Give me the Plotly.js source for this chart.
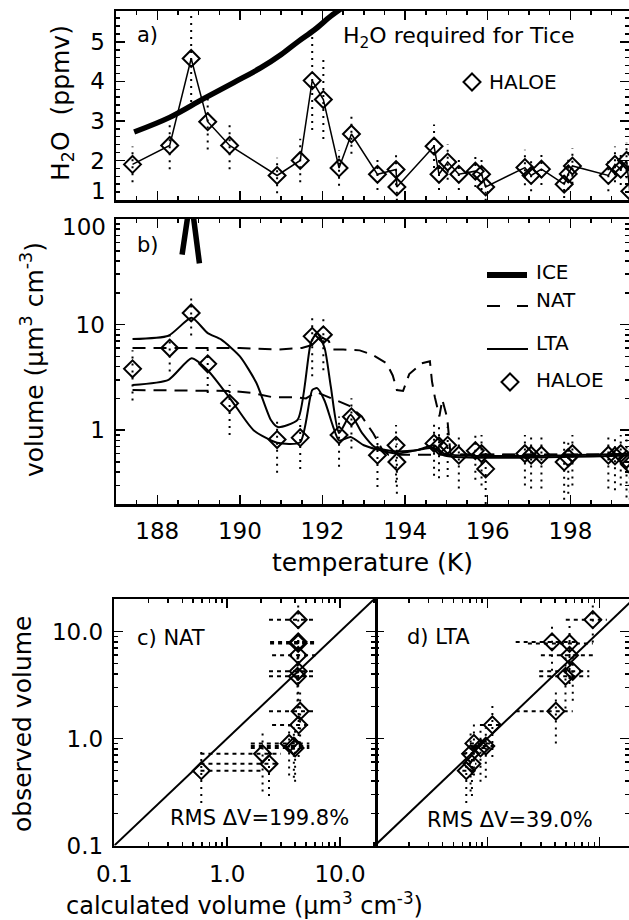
<!DOCTYPE html>
<html><head><meta charset="utf-8">
<script src="https://cdn.plot.ly/plotly-3.0.1.min.js"></script>
<style>html,body{margin:0;padding:0;background:#fff}#chart{width:629px;height:920px}</style>
</head><body><div id="chart"></div>
<script>
// ---------- HALOE observations (panels a and b) ----------
const temps  = [187.40,188.30,188.82,189.22,189.75,190.90,191.46,191.75,192.02,192.40,192.70,193.33,193.78,193.80,194.70,194.82,195.03,195.30,195.70,195.85,195.95,196.90,197.05,197.30,197.85,197.95,198.05,198.92,199.08,199.22,199.36,199.44];
const h2o    = [1.90,2.38,4.58,2.98,2.38,1.62,2.00,4.02,3.54,1.81,2.67,1.65,1.77,1.33,2.36,1.65,1.96,1.65,1.73,1.65,1.33,1.82,1.62,1.78,1.40,1.66,1.86,1.62,1.90,1.78,2.00,1.22];
const h2oErr = [0.45,0.60,1.10,0.70,0.60,0.45,0.55,1.25,1.00,0.45,0.50,0.40,0.40,0.35,0.55,0.40,0.45,0.40,0.40,0.40,0.35,0.45,0.40,0.40,0.35,0.40,0.45,0.40,0.45,0.40,0.45,0.35];
const volObs = [3.81,6.0,12.9,4.25,1.8,0.815,0.85,7.74,8.0,0.9,1.34,0.58,0.72,0.5,0.75,0.71,0.72,0.58,0.64,0.6,0.43,0.6,0.58,0.58,0.5,0.55,0.6,0.58,0.57,0.6,0.53,0.47];
const volErr = [1.9,2.4,5.0,2.0,0.9,0.42,0.42,4.5,4.3,0.45,0.67,0.29,0.4,0.25,0.38,0.36,0.36,0.3,0.3,0.3,0.23,0.3,0.3,0.3,0.28,0.3,0.3,0.3,0.3,0.3,0.3,0.25];

// H2O required for ice formation (panel a)
const iceReqT = [187.44,188.30,189.10,189.85,190.50,191.00,191.40,191.80,192.20,192.60];
const iceReqV = [2.72,3.09,3.55,3.97,4.34,4.68,5.00,5.30,5.65,5.95];

// Model volumes (panel b)
const iceT = [188.60,188.81,189.02];
const iceV = [46,165,38];
const natUpT = [187.40,190.0,190.9,191.5,191.8,192.0,192.15,192.25,192.5,192.9,193.2,193.55,193.7,193.8,193.95,194.1,194.4,194.6,194.65,194.72,194.83,194.9,195.02,195.1,199.45];
const natUpV = [6.0,6.0,5.8,6.0,6.5,7.5,7.0,5.8,5.8,5.7,5.2,4.3,3.3,2.4,2.35,3.4,4.3,4.5,2.9,2.05,1.35,1.95,1.3,0.59,0.59];
const natLoT = [187.40,189.8,190.3,190.8,191.3,191.6,191.85,192.1,192.3,192.65,192.95,193.23,193.45,193.6,199.45];
const natLoV = [2.4,2.35,2.25,2.05,2.05,2.0,2.3,2.1,1.93,1.7,1.35,0.93,0.65,0.585,0.585];
const ltaUpT = [187.40,188.27,188.83,189.22,189.55,190.0,190.4,190.75,190.92,191.40,191.72,191.87,192.05,192.2,192.4,192.68,192.95,193.27,193.8,194.3,194.7,194.95,199.45];
const ltaUpV = [7.3,7.85,11.6,8.3,7.2,5.0,2.8,1.25,1.07,1.26,6.8,8.3,6.0,2.6,0.94,1.4,0.95,0.69,0.63,0.65,0.72,0.6,0.6];
const ltaLoT = [187.40,188.27,188.83,189.22,189.79,190.33,190.90,191.46,191.75,191.87,192.05,192.25,192.4,192.68,193.0,193.3,193.8,194.7,194.95,199.45];
const ltaLoV = [2.68,3.0,4.8,3.7,1.93,1.0,0.76,0.77,2.4,2.5,1.9,1.1,0.8,0.86,0.72,0.66,0.6,0.68,0.575,0.575];

// ---------- Scatter comparisons (panels c and d), first 14 observations ----------
const nCmp = 14;
const natCalc = [4.2,4.26,4.26,4.26,4.43,4.0,3.9,4.26,4.26,3.54,4.3,2.35,2.06,0.59];
const natLo   = [2.35,2.5,2.35,2.35,2.35,1.62,1.62,2.4,2.4,1.62,2.5,0.58,0.58,0.58];
const natHi   = [6.1,6.1,6.1,6.1,6.1,5.35,5.35,6.3,6.3,5.35,5.3,2.9,3.0,2.1];
const ltaCalc = [4.97,5.4,8.7,5.77,4.08,0.87,0.97,5.4,3.77,0.76,1.11,0.73,0.71,0.65];
const ltaLo   = [2.9,3.0,5.0,2.9,1.79,0.75,0.77,2.3,1.79,0.70,0.86,0.66,0.60,0.60];
const ltaHi   = [8.1,8.7,11.6,8.1,5.77,1.07,1.26,8.7,6.2,1.1,1.4,0.8,0.8,0.75];
const oneToOne = [0.1,20];

const tempTicks = [188,190,192,194,196,198];
const h2oTicks = [2,3,4,5];          // "1" is drawn below as a raised label, as in the original
const volTicks = [1,10];             // "100" is drawn below as a lowered label, as in the original
const cmpTicks = [0.1,1,10];
const cmpTickText = ['0.1','1.0','10.0'];

// ---------- helpers ----------
const W = 629, H = 920;
const px = v => v / W;
const py = v => (H - v) / H;
function vSegs(xs, ys, es, floor) {
  const x = [], y = [];
  xs.forEach((xv, i) => { x.push(xv, xv, null); y.push(Math.max(ys[i] - es[i], floor), ys[i] + es[i], null); });
  return {x, y};
}
function hSegs(ys, lo, hi) {
  const x = [], y = [];
  ys.forEach((yv, i) => { x.push(lo[i], hi[i], null); y.push(yv, yv, null); });
  return {x, y};
}
function logMinor(lo, hi) {
  const out = [];
  for (let d = lo; d < hi; d++) for (let k = 2; k <= 9; k++) out.push(k * Math.pow(10, d));
  return out;
}
const K = '#000';
const dotted = {color: K, width: 2, dash: '2px,5px'};
const hdotted = {color: K, width: 2, dash: '4px,4px'};
const diamond = {symbol: 'diamond-open', size: 13, color: K, line: {color: K, width: 2}};

const traces = [];
// panel a
const ea = vSegs(temps, h2o, h2oErr, 0.5);
traces.push({x: ea.x, y: ea.y, xaxis: 'x', yaxis: 'y', mode: 'lines', line: dotted, hoverinfo: 'skip'});
traces.push({x: iceReqT, y: iceReqV, xaxis: 'x', yaxis: 'y', mode: 'lines', line: {color: K, width: 5.5, shape: 'spline'}});
traces.push({x: temps, y: h2o, xaxis: 'x', yaxis: 'y', mode: 'lines+markers', line: {color: K, width: 1.5}, marker: diamond});
// panel b
const eb = vSegs(temps, volObs, volErr, 0.12);
traces.push({x: eb.x, y: eb.y, xaxis: 'x2', yaxis: 'y2', mode: 'lines', line: dotted, hoverinfo: 'skip'});
traces.push({x: natUpT, y: natUpV, xaxis: 'x2', yaxis: 'y2', mode: 'lines', line: {color: K, width: 2, dash: '13px,8px'}});
traces.push({x: natLoT, y: natLoV, xaxis: 'x2', yaxis: 'y2', mode: 'lines', line: {color: K, width: 2, dash: '13px,8px'}});
traces.push({x: ltaUpT, y: ltaUpV, xaxis: 'x2', yaxis: 'y2', mode: 'lines', line: {color: K, width: 2, shape: 'spline', smoothing: 0.6}});
traces.push({x: ltaLoT, y: ltaLoV, xaxis: 'x2', yaxis: 'y2', mode: 'lines', line: {color: K, width: 2, shape: 'spline', smoothing: 0.6}});
traces.push({x: iceT, y: iceV, xaxis: 'x2', yaxis: 'y2', mode: 'lines', line: {color: K, width: 5.5}});
traces.push({x: temps, y: volObs, xaxis: 'x2', yaxis: 'y2', mode: 'markers', marker: diamond});
// panels c, d
const obsC = volObs.slice(0, nCmp), errC = volErr.slice(0, nCmp);
[['x3','y3',natCalc,natLo,natHi],['x4','y4',ltaCalc,ltaLo,ltaHi]].forEach(([xa, ya, calc, lo, hi]) => {
  traces.push({x: oneToOne, y: oneToOne, xaxis: xa, yaxis: ya, mode: 'lines', line: {color: K, width: 2}});
  const ev = vSegs(calc, obsC, errC, 0.05);
  traces.push({x: ev.x, y: ev.y, xaxis: xa, yaxis: ya, mode: 'lines', line: dotted, hoverinfo: 'skip'});
  const eh = hSegs(obsC, lo, hi);
  traces.push({x: eh.x, y: eh.y, xaxis: xa, yaxis: ya, mode: 'lines', line: hdotted, hoverinfo: 'skip'});
  traces.push({x: calc, y: obsC, xaxis: xa, yaxis: ya, mode: 'markers', marker: diamond});
});

const FONT = 'DejaVu Sans, sans-serif';
const tickFont = {family: FONT, size: 23, color: K};
const baseAxis = {
  showline: true, linewidth: 2.5, linecolor: K, mirror: 'allticks',
  ticks: 'inside', ticklen: 9, tickwidth: 1.5, tickcolor: K,
  showgrid: false, zeroline: false, tickfont: tickFont, fixedrange: true
};
const tempMinor = {dtick: 0.5, tick0: 188, ticks: 'inside', ticklen: 4, tickwidth: 1.5, tickcolor: K};
const dA = [px(116), 1];
const logMin = {tickvals: logMinor(-1, 2), ticks: 'inside', ticklen: 4, tickwidth: 1.5, tickcolor: K};

const layout = {
  width: W, height: H, margin: {l: 0, r: 0, t: 0, b: 0},
  paper_bgcolor: '#fff', plot_bgcolor: '#fff', showlegend: false,
  font: {family: FONT, color: K},
  xaxis: Object.assign({}, baseAxis, {domain: dA, anchor: 'y', range: [187.0, 199.42], tickvals: tempTicks, showticklabels: false, minor: tempMinor}),
  yaxis: Object.assign({}, baseAxis, {domain: [py(200), py(11)], anchor: 'x', range: [1.0, 5.78], tickvals: h2oTicks, minor: {dtick: 0.2, tick0: 1, ticks: 'inside', ticklen: 4, tickwidth: 1.5, tickcolor: K}, ticklabelstandoff: 4}),
  xaxis2: Object.assign({}, baseAxis, {domain: dA, anchor: 'y2', range: [187.0, 199.42], tickvals: tempTicks, minor: tempMinor, ticklabelstandoff: 5}),
  yaxis2: Object.assign({}, baseAxis, {domain: [py(504), py(219)], anchor: 'x2', type: 'log', range: [Math.log10(0.2), 2], tickvals: volTicks, ticktext: volTicks.map(String), minor: logMin, ticklabelstandoff: 4}),
  xaxis3: Object.assign({}, baseAxis, {domain: [px(114.3), px(375)], anchor: 'y3', type: 'log', range: [-1, 1.31], tickvals: cmpTicks, ticktext: cmpTickText, minor: logMin, ticklabelstandoff: 6}),
  yaxis3: Object.assign({}, baseAxis, {domain: [py(845.5), py(599.3)], anchor: 'x3', type: 'log', range: [-1, 1.301], tickvals: cmpTicks, ticktext: cmpTickText, minor: logMin, ticklabelstandoff: 4}),
  xaxis4: Object.assign({}, baseAxis, {domain: [px(375), 1], anchor: 'y4', type: 'log', range: [-1, 1.262], tickvals: cmpTicks, showticklabels: false, minor: logMin}),
  yaxis4: Object.assign({}, baseAxis, {domain: [py(845.5), py(599.3)], anchor: 'x4', type: 'log', range: [-1, 1.301], tickvals: cmpTicks, showticklabels: false, minor: logMin, showline: false}),
  annotations: [],
  shapes: []
};

function ann(text, x, y, opts) {
  layout.annotations.push(Object.assign({text, x: px(x), y: py(y), xref: 'paper', yref: 'paper', showarrow: false,
    xanchor: 'left', yanchor: 'middle', font: {family: FONT, size: 20, color: K}}, opts || {}));
}
function diamondShape(cx, cy, r) {
  layout.shapes.push({type: 'path', xref: 'paper', yref: 'paper',
    path: `M ${px(cx)} ${py(cy - r)} L ${px(cx + r)} ${py(cy)} L ${px(cx)} ${py(cy + r)} L ${px(cx - r)} ${py(cy)} Z`,
    line: {color: K, width: 2}});
}
function lineShape(x0, x1, y, w, dash) {
  layout.shapes.push({type: 'line', xref: 'paper', yref: 'paper', x0: px(x0), x1: px(x1), y0: py(y), y1: py(y),
    line: {color: K, width: w, dash: dash || 'solid'}});
}

// edge tick labels placed as in the original
ann('1', 108, 191, {xanchor: 'right', font: tickFont});
ann('100', 108, 227, {xanchor: 'right', font: tickFont});
// panel labels and texts
ann('a)', 135, 35, {font: {family: FONT, size: 21, color: K}});
ann('H<sub>2</sub>O required for Tice', 341, 37, {font: {family: FONT, size: 22, color: K}});
diamondShape(472, 82, 8.5);
ann('HALOE', 487, 82);
ann('b)', 135, 245, {font: {family: FONT, size: 21, color: K}});
lineShape(487, 527, 275, 6);
ann('ICE', 534, 272);
lineShape(487, 500, 306, 2);
lineShape(517, 528, 306, 2);
ann('NAT', 534, 300);
lineShape(487, 528, 349, 2);
ann('LTA', 534, 343);
diamondShape(510, 382, 8.5);
ann('HALOE', 534, 380);
ann('c) NAT', 135, 638, {font: {family: FONT, size: 21, color: K}});
ann('d) LTA', 405, 637, {font: {family: FONT, size: 21, color: K}});
ann('RMS ΔV=199.8%', 259, 818, {xanchor: 'center', font: {family: FONT, size: 21, color: K}});
ann('RMS ΔV=39.0%', 510, 820, {xanchor: 'center', font: {family: FONT, size: 21, color: K}});
// axis titles
const tf = {family: FONT, size: 25, color: K};
ann('H<sub>2</sub>O  (ppmv)', 62, 103, {xanchor: 'center', textangle: -90, font: tf});
ann('volume (μm<sup>3</sup> cm<sup>-3</sup>)', 33, 360, {xanchor: 'center', textangle: -90, font: tf});
ann('temperature (K)', 372, 562, {xanchor: 'center', font: tf});
ann('observed volume', 22, 724, {xanchor: 'center', textangle: -90, font: tf});
ann('calculated volume (μm<sup>3</sup> cm<sup>-3</sup>)', 244, 904, {xanchor: 'center', font: {family: FONT, size: 24, color: K}});

Plotly.newPlot('chart', traces, layout, {displayModeBar: false, staticPlot: true});
</script>
</body></html>
